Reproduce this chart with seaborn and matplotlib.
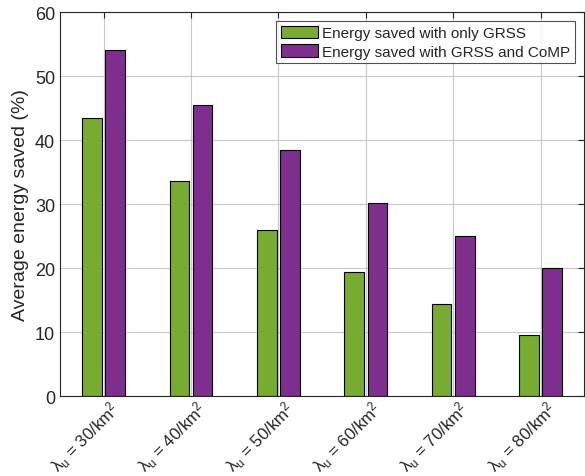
import matplotlib
matplotlib.use("Agg")
import matplotlib.pyplot as plt
import matplotlib.transforms as mtransforms
import seaborn as sns
import pandas as pd

densidades = [30, 40, 50, 60, 70, 80]
solo_grss = [43.4, 33.6, 26.0, 19.4, 14.4, 9.6]
grss_comp = [54.0, 45.5, 38.5, 30.2, 25.0, 20.0]
series = ["Energy saved with only GRSS", "Energy saved with GRSS and CoMP"]
colores = ["#77AC30", "#7E2F8E"]

etiquetas = [r"$\mathrm{\lambda_u}$ = %d/km$^2$" % d for d in densidades]

df = pd.DataFrame({
    "cat": etiquetas * 2,
    "valor": solo_grss + grss_comp,
    "serie": [series[0]] * len(densidades) + [series[1]] * len(densidades),
})

sns.set_style("white")
plt.rcParams["font.family"] = ["Liberation Sans", "DejaVu Sans"]
plt.rcParams["mathtext.fontset"] = "custom"
plt.rcParams["mathtext.rm"] = "Liberation Sans"
plt.rcParams["mathtext.it"] = "Liberation Sans"

fig = plt.figure(figsize=(5.85, 4.77), dpi=100)
ax = fig.add_axes([0.1026, 0.1677, 0.896, 0.805])

sns.barplot(data=df, x="cat", y="valor", hue="serie", palette=colores,
            saturation=1, width=0.53, gap=0.15, edgecolor="black",
            linewidth=0.8, ax=ax)

ax.set_xlim(-0.5, 5.5)
ax.set_ylim(0, 60)
ax.set_yticks(range(0, 61, 10))
ax.grid(True, color="#c8c8c8", linewidth=0.8)
ax.set_axisbelow(True)
for s in ax.spines.values():
    s.set_visible(True)
    s.set_color("#262626")
    s.set_linewidth(0.8)
ax.tick_params(direction="in", top=True, right=True, length=4, labelsize=13,
               color="#262626")
ax.tick_params(axis="x", labelsize=12.2, pad=1)
ax.set_xticks(range(len(etiquetas)))
ax.set_xticklabels(etiquetas, rotation=45, ha="right", rotation_mode="anchor")
# corrimiento a la derecha como en el original
desplazar = mtransforms.ScaledTranslation(5 / 100, 0, fig.dpi_scale_trans)
for t in ax.get_xticklabels():
    t.set_transform(t.get_transform() + desplazar)
ax.set_xlabel("")
ax.set_ylabel("Average energy saved (%)", fontsize=14)

leg = ax.legend(loc="upper right", fontsize=11, frameon=True, fancybox=False,
                edgecolor="#262626", borderpad=0.3, handlelength=2.4,
                handleheight=0.9, handletextpad=0.3, borderaxespad=0.6,
                labelspacing=0.25)
leg.get_frame().set_linewidth(0.8)

fig.savefig("out.png", dpi=100)
